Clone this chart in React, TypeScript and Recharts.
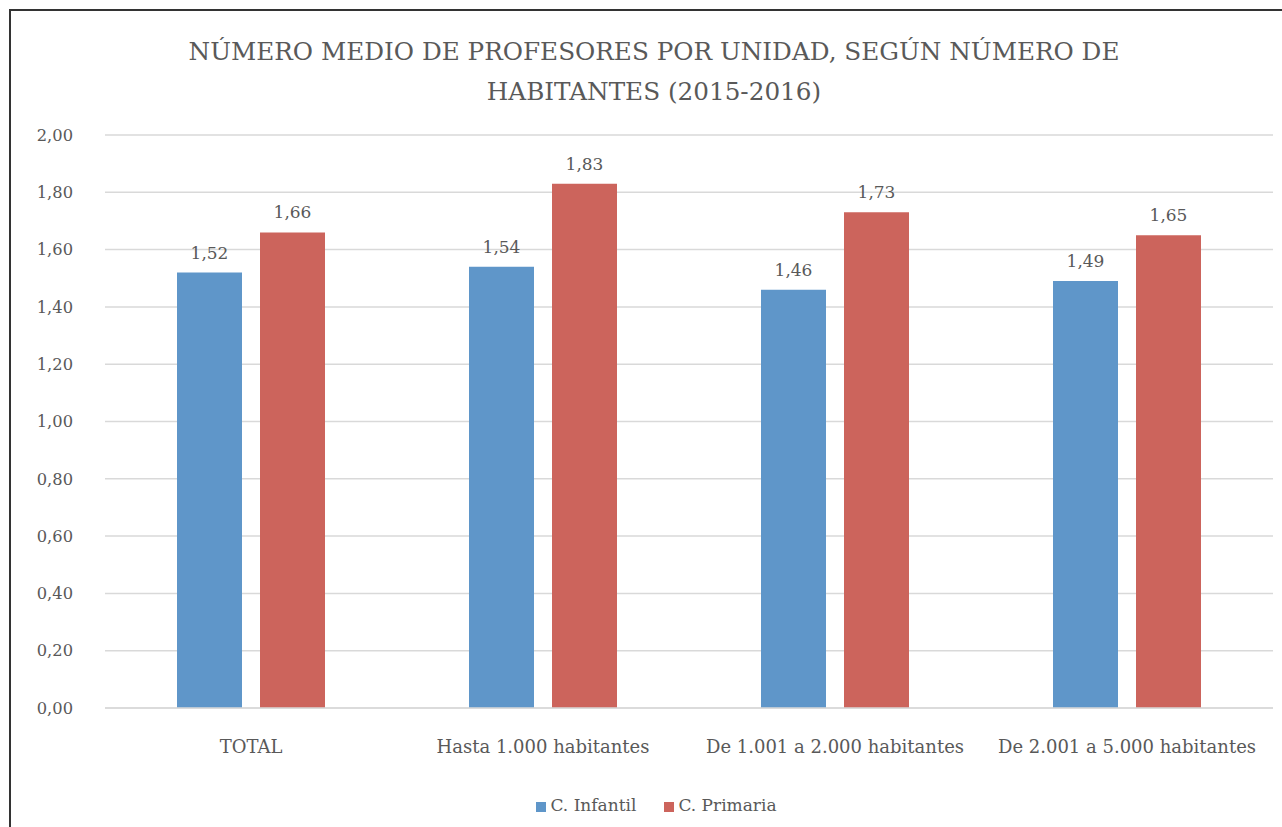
import React from "react";
import { BarChart, Bar, XAxis, YAxis, CartesianGrid, Legend, LabelList } from "recharts";

const categories = ["TOTAL", "Hasta 1.000 habitantes", "De 1.001 a 2.000 habitantes", "De 2.001 a 5.000 habitantes"];
const infantil = [1.52, 1.54, 1.46, 1.49];
const primaria = [1.66, 1.83, 1.73, 1.65];
const yTicks = [0, 0.2, 0.4, 0.6, 0.8, 1.0, 1.2, 1.4, 1.6, 1.8, 2.0];
const titleLines = ["NÚMERO MEDIO DE PROFESORES POR UNIDAD, SEGÚN NÚMERO DE", "HABITANTES (2015-2016)"];

const data = categories.map((c, i) => ({ name: c, infantil: infantil[i], primaria: primaria[i] }));

const FONT = "'DejaVu Serif', serif";
const GRAY = "#595959";
const fmt = (v: number) => v.toFixed(2).replace(".", ",");

export default function App() {
  return (
    <div style={{ position: "absolute", left: 0, top: 0, width: 1282, height: 827, background: "#fff", overflow: "hidden" }}>
      <style>{`body{margin:0}`}</style>
      <div style={{ position: "absolute", left: 9, top: 9, width: 1300, height: 900, borderLeft: "2px solid #333", borderTop: "2px solid #333" }} />
      <div style={{ position: "absolute", left: 0, top: 32, width: 1308, textAlign: "center", fontFamily: FONT, fontSize: 24.7, color: GRAY, lineHeight: "40px" }}>
        {titleLines.map((l) => (<div key={l}>{l}</div>))}
      </div>
      <div style={{ position: "absolute", left: 0, top: 0 }}>
        <BarChart width={1282} height={827} data={data} margin={{ top: 135, right: 9, bottom: 0, left: 0 }} barSize={65} barGap={18}>
          <CartesianGrid horizontal vertical={false} stroke="#D9D9D9" strokeWidth={1.5} />
          <XAxis dataKey="name" axisLine={{ stroke: "#D9D9D9", strokeWidth: 1.5 }} tickLine={false} tickMargin={26} height={99}
            tick={{ fill: GRAY, fontFamily: FONT, fontSize: 18 }} interval={0} />
          <YAxis domain={[0, 2]} ticks={yTicks} width={105} axisLine={false} tickLine={false} tickSize={0} tickMargin={32}
            tickFormatter={fmt} tick={{ fill: GRAY, fontFamily: FONT, fontSize: 16.3 }} />
          <Legend verticalAlign="bottom" iconType="square" iconSize={10}
            wrapperStyle={{ fontFamily: FONT, fontSize: 17, color: GRAY, bottom: 12, paddingLeft: 34 }}
            formatter={(v: string) => <span style={{ color: GRAY, marginRight: 18 }}>{v}</span>} />
          <Bar dataKey="infantil" name="C. Infantil" fill="#5F96C9" isAnimationActive={false}>
            <LabelList dataKey="infantil" position="top" offset={14} formatter={fmt} style={{ fill: GRAY, fontFamily: FONT, fontSize: 17 }} />
          </Bar>
          <Bar dataKey="primaria" name="C. Primaria" fill="#CC645C" isAnimationActive={false}>
            <LabelList dataKey="primaria" position="top" offset={14} formatter={fmt} style={{ fill: GRAY, fontFamily: FONT, fontSize: 17 }} />
          </Bar>
        </BarChart>
      </div>
    </div>
  );
}
